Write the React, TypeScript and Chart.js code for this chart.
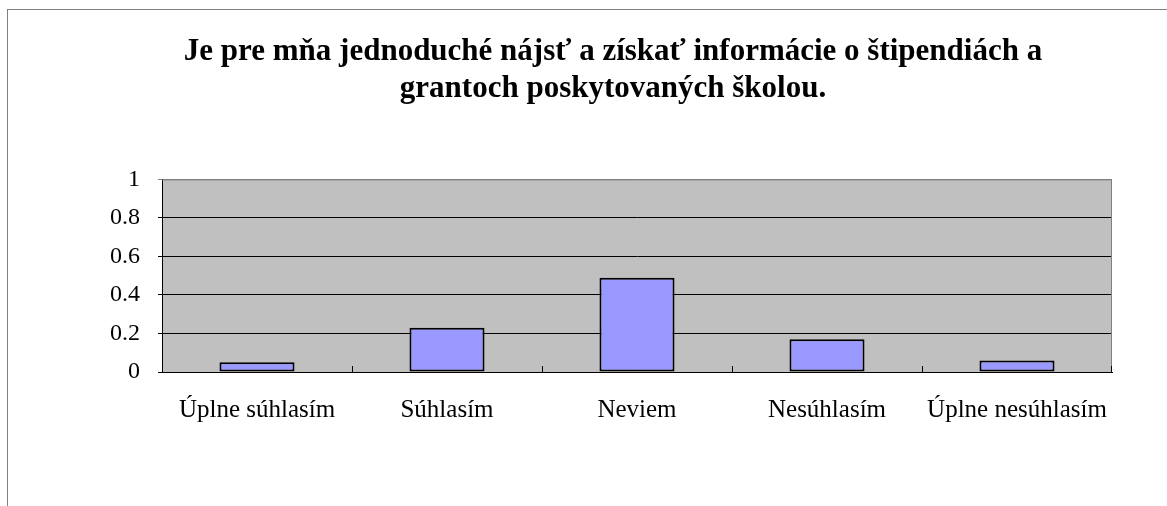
import React, { useEffect, useRef } from "react";
import { Chart, registerables } from "chart.js";

Chart.register(...registerables);

const titleLines = [
  "Je pre mňa jednoduché nájsť a získať informácie o štipendiách a",
  "grantoch poskytovaných školou.",
];
const categories = ["Úplne súhlasím", "Súhlasím", "Neviem", "Nesúhlasím", "Úplne nesúhlasím"];
const values = [0.05, 0.23, 0.49, 0.17, 0.06];
const yTickValues = [0, 0.2, 0.4, 0.6, 0.8, 1];

const FONT = "'Liberation Serif', 'DejaVu Serif', serif";

const plotPlugin = {
  id: "plotDecor",
  beforeDraw(chart: any) {
    const { ctx, chartArea } = chart;
    ctx.save();
    ctx.fillStyle = "#C0C0C0";
    ctx.fillRect(chartArea.left, chartArea.top, chartArea.right - chartArea.left, chartArea.bottom - chartArea.top);
    ctx.restore();
  },
  afterDraw(chart: any) {
    const { ctx, chartArea } = chart;
    const xs = chart.scales.x;
    ctx.save();
    ctx.strokeStyle = "#808080";
    ctx.lineWidth = 1;
    ctx.beginPath();
    ctx.moveTo(chartArea.left, chartArea.top + 0.5);
    ctx.lineTo(chartArea.right - 0.5, chartArea.top + 0.5);
    ctx.lineTo(chartArea.right - 0.5, chartArea.bottom);
    ctx.stroke();
    ctx.strokeStyle = "#000";
    ctx.beginPath();
    for (let i = 1; i <= categories.length; i++) {
      const x =
        i < categories.length
          ? Math.round((xs.getPixelForValue(i - 1) + xs.getPixelForValue(i)) / 2) + 0.5
          : chartArea.right - 0.5;
      ctx.moveTo(x, chartArea.bottom);
      ctx.lineTo(x, chartArea.bottom - 6);
    }
    ctx.stroke();
    ctx.restore();
  },
};

export default function App() {
  const ref = useRef<HTMLCanvasElement | null>(null);
  useEffect(() => {
    if (!ref.current) return;
    const chart = new Chart(ref.current, {
      type: "bar",
      data: {
        labels: categories,
        datasets: [
          {
            data: values,
            backgroundColor: "#9999FF",
            borderColor: "#000000",
            borderWidth: 2,
            borderSkipped: false,
            categoryPercentage: 1,
            barPercentage: 0.395,
          },
        ],
      },
      options: {
        animation: false,
        responsive: false,
        events: [],
        layout: { padding: 0 },
        plugins: {
          legend: { display: false },
          tooltip: { enabled: false },
          title: {
            display: true,
            text: titleLines,
            color: "#000",
            font: { family: FONT, size: 31, weight: "bold", lineHeight: 1.2 },
            padding: { top: 33, bottom: 72 },
          },
        },
        scales: {
          x: {
            grid: { display: false },
            border: { display: true, color: "#000", width: 1 },
            ticks: {
              color: "#000",
              font: { family: FONT, size: 25 },
              padding: 15,
              maxRotation: 0,
              autoSkip: false,
            },
            afterFit(scale: any) {
              scale.height = 134;
            },
          },
          y: {
            min: 0,
            max: 1,
            afterBuildTicks(scale: any) {
              scale.ticks = yTickValues.map((v) => ({ value: v }));
            },
            grid: {
              color: (c: any) => (c.tick && c.tick.value === 1 ? "#808080" : "#000"),
              lineWidth: 1,
              tickLength: 4,
              drawTicks: true,
            },
            border: { display: true, color: "#000", width: 1 },
            ticks: {
              color: "#000",
              font: { family: FONT, size: 24 },
              padding: 18,
              callback: (v: any) => String(Math.round(Number(v) * 10) / 10),
            },
            afterFit(scale: any) {
              scale.width = 162;
            },
          },
          y2: {
            position: "right",
            min: 0,
            max: 1,
            display: true,
            grid: { display: false, drawTicks: false },
            border: { display: false },
            ticks: { display: false },
            afterFit(scale: any) {
              scale.width = 114;
            },
          },
        },
      },
      plugins: [plotPlugin],
    });
    return () => chart.destroy();
  }, []);

  return (
    <div style={{ position: "fixed", left: 0, top: 0, width: 1167, height: 506, overflow: "hidden", background: "#fff" }}>
      <div
        style={{
          position: "absolute",
          left: 7,
          top: 9,
          width: 1300,
          height: 700,
          border: "1px solid #808080",
          boxSizing: "border-box",
        }}
      />
      <canvas ref={ref} width={1226} height={506} style={{ position: "absolute", left: 0, top: 0 }} />
    </div>
  );
}
